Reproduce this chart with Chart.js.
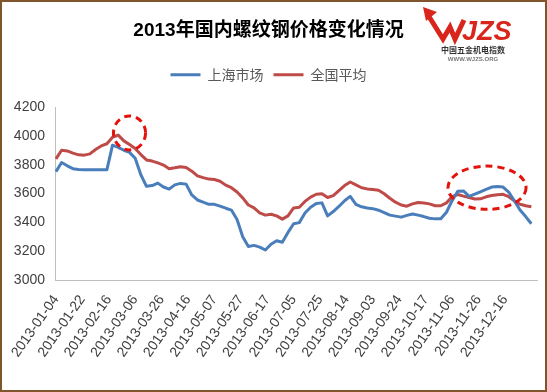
<!DOCTYPE html>
<html>
<head>
<meta charset="utf-8">
<script src="https://cdn.jsdelivr.net/npm/chart.js@4"></script>
<style>
  body { margin: 0; background: #fff; }
  canvas { display: block; }
</style>
</head>
<body>
<canvas id="steel-chart" width="547" height="392"></canvas>
<script>
// Axis labels, one every 14 trading days
const tickLabels = ["2013-01-04", "2013-01-22", "2013-02-16", "2013-03-06", "2013-03-26", "2013-04-16",
    "2013-05-07", "2013-05-27", "2013-06-17", "2013-07-05", "2013-07-25", "2013-08-14",
    "2013-09-03", "2013-09-24", "2013-10-17", "2013-11-06", "2013-11-26", "2013-12-16"];
const tickStep = 14;

// Prices read every 3 trading days (yuan / ton)
const sampleStep = 3;
const seriesNames = ["上海市场", "全国平均"];

const shanghai = [3752, 3815, 3792, 3772, 3766, 3764, 3764, 3764, 3764, 3764,
    3935, 3920, 3900, 3885, 3845, 3730, 3650, 3655, 3672, 3645,
    3630, 3660, 3670, 3665, 3590, 3555, 3540, 3525, 3525, 3512,
    3498, 3485, 3420, 3300, 3232, 3240, 3228, 3208, 3248, 3272,
    3262, 3330, 3390, 3398, 3465, 3505, 3530, 3535, 3445, 3475,
    3510, 3550, 3580, 3525, 3508, 3500, 3495, 3484, 3468, 3450,
    3443, 3436, 3448, 3458, 3450, 3440, 3428, 3424, 3425, 3470,
    3550, 3615, 3618, 3580, 3595, 3612, 3628, 3645, 3648, 3645,
    3610, 3550, 3485, 3440, 3390];

const national = [3840, 3900, 3895, 3880, 3868, 3866, 3875, 3905, 3930, 3945,
    3990, 4005, 3965, 3940, 3912, 3870, 3833, 3825, 3812, 3797,
    3772, 3778, 3786, 3780, 3755, 3722, 3710, 3700, 3697, 3685,
    3658, 3640, 3610, 3570, 3520, 3500, 3465, 3450, 3456, 3445,
    3422, 3445, 3500, 3505, 3545, 3575, 3595, 3598, 3572, 3585,
    3620, 3655, 3680, 3660, 3640, 3632, 3628, 3622, 3598, 3567,
    3540, 3520, 3512, 3528, 3537, 3534, 3528, 3515, 3515, 3535,
    3578, 3593, 3582, 3572, 3562, 3563, 3577, 3586, 3592, 3594,
    3578, 3550, 3525, 3515, 3508];

// dashed rings drawn on the picture: centre (trading day, price) and half sizes
const highlights = [
    { day: 39, price: 4020, halfDays: 8.5, halfPrice: 118 },
    { day: 228.5, price: 3640, halfDays: 20.7, halfPrice: 150 }
];

const toPoints = arr => arr.map((v, i) => ({ x: i * sampleStep, y: v }));

const latinFont = '"Liberation Sans", "Noto Sans CJK SC", sans-serif';
const cjkFont = '"Noto Sans CJK SC", "Liberation Sans", sans-serif';

const decorPlugin = {
    id: 'decor',
    afterDraw(chart) {
        const ctx = chart.ctx;
        const xs = chart.scales.x;
        const ys = chart.scales.y;
        ctx.save();

        // red dashed rings
        ctx.strokeStyle = '#e3120b';
        ctx.lineWidth = 3;
        ctx.setLineDash([7, 5]);
        highlights.forEach(h => {
            const cx = xs.getPixelForValue(h.day);
            const cy = ys.getPixelForValue(h.price);
            const rx = xs.getPixelForValue(h.day + h.halfDays) - cx;
            const ry = cy - ys.getPixelForValue(h.price + h.halfPrice);
            ctx.beginPath();
            ctx.ellipse(cx, cy, rx, ry, 0, 0, Math.PI * 2);
            ctx.stroke();
        });
        ctx.setLineDash([]);

        // WJZS logo
        ctx.strokeStyle = '#d9261c';
        ctx.fillStyle = '#d9261c';
        ctx.lineWidth = 5;
        ctx.lineJoin = 'miter';
        ctx.beginPath();
        ctx.moveTo(428, 15);
        ctx.lineTo(443, 39);
        ctx.lineTo(450, 27);
        ctx.lineTo(455, 39);
        ctx.lineTo(464, 20);
        ctx.stroke();
        ctx.beginPath();
        ctx.moveTo(423, 7);
        ctx.lineTo(437, 12);
        ctx.lineTo(426, 21);
        ctx.closePath();
        ctx.fill();
        ctx.font = 'italic bold 27px ' + latinFont;
        ctx.textAlign = 'left';
        ctx.textBaseline = 'alphabetic';
        ctx.fillText('JZS', 462, 40);

        ctx.textAlign = 'center';
        ctx.fillStyle = '#333';
        ctx.font = 'bold 8px ' + cjkFont;
        ctx.fillText('中国五金机电指数', 473, 53);
        ctx.fillStyle = '#777';
        ctx.font = 'bold 6px ' + latinFont;
        ctx.fillText('WWW.WJZS.ORG', 473, 61);

        // brown frame
        ctx.strokeStyle = '#80552e';
        ctx.lineWidth = 2;
        ctx.strokeRect(1, 1, chart.width - 2, chart.height - 2);
        ctx.restore();
    }
};

const steelCanvas = document.getElementById("steel-chart");

let steelChart = new Chart(steelCanvas, {
    type: 'line',
    data: {
        datasets: [{
            label: seriesNames[0],
            data: toPoints(shanghai),
            borderColor: '#4a7ebb',
            backgroundColor: '#4a7ebb',
            borderWidth: 3,
            pointRadius: 0,
            tension: 0,
            borderJoinStyle: 'round'
        }, {
            label: seriesNames[1],
            data: toPoints(national),
            borderColor: '#be4b48',
            backgroundColor: '#be4b48',
            borderWidth: 3,
            pointRadius: 0,
            tension: 0,
            borderJoinStyle: 'round'
        }]
    },
    options: {
        responsive: false,
        animation: false,
        layout: {
            padding: { top: 8, right: 10, bottom: 0, left: 0 }
        },
        scales: {
            x: {
                type: 'linear',
                min: -0.5,
                max: 255,
                afterBuildTicks: scale => {
                    scale.ticks = tickLabels.map((_, i) => ({ value: i * tickStep }));
                },
                afterFit: scale => { scale.height = 112; },
                grid: { display: false, drawTicks: false },
                border: { color: '#bfbfbf', width: 1 },
                ticks: {
                    autoSkip: false,
                    minRotation: 55,
                    maxRotation: 55,
                    padding: 12,
                    color: '#404040',
                    font: { size: 14, family: latinFont },
                    callback: (value, index) => tickLabels[index]
                }
            },
            y: {
                min: 3000,
                max: 4200,
                afterFit: scale => { scale.width = 55; },
                grid: { display: false, drawTicks: false },
                border: { color: '#bfbfbf', width: 1 },
                ticks: {
                    stepSize: 200,
                    padding: 10,
                    color: '#404040',
                    font: { size: 14, family: latinFont },
                    callback: value => String(value)
                }
            }
        },
        plugins: {
            title: {
                display: true,
                text: '2013年国内螺纹钢价格变化情况',
                color: '#000',
                font: { size: 19, weight: 'bold', family: latinFont },
                padding: { top: 11, bottom: 16 }
            },
            subtitle: {
                display: true,
                text: ' ',
                weight: 500,
                font: { size: 1 },
                padding: { top: 0, bottom: 14 }
            },
            legend: {
                labels: {
                    boxWidth: 30,
                    boxHeight: 3,
                    padding: 10,
                    color: '#595959',
                    font: { size: 14, family: cjkFont },
                    generateLabels: chart => Chart.defaults.plugins.legend.labels.generateLabels(chart)
                        .map(l => Object.assign(l, { lineWidth: 0 }))
                }
            },
            tooltip: { enabled: false }
        }
    },
    plugins: [decorPlugin]
});
</script>
</body>
</html>
